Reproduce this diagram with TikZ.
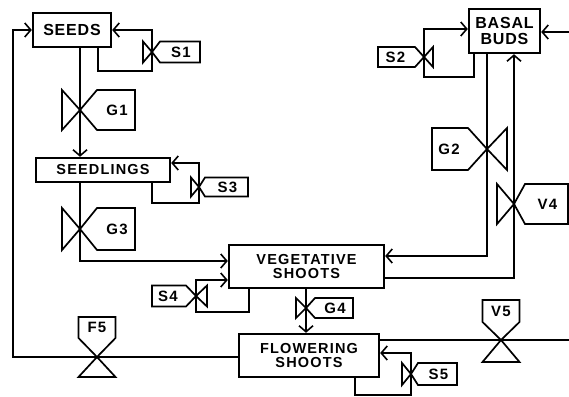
\documentclass[tikz,border=0pt]{standalone}
\usepackage{fontspec}
\setmainfont{Liberation Sans}
\newfontfamily\letfont[LetterSpace=8]{Liberation Sans}
\newfontfamily\bigletfont[LetterSpace=5]{Liberation Sans}
\usetikzlibrary{arrows.meta}
\tikzset{
  box/.style={draw, line width=2.4pt, inner sep=0pt, align=center,
    font={\letfont\bfseries\fontsize{14.5}{14}\selectfont}},
  bigbox/.style={box, font={\bigletfont\bfseries\fontsize{16}{16}\selectfont}},
  conn/.style={line width=1.7pt, line join=miter},
  connA/.style={conn, -{Straight Barb[length=6pt,width=14pt,line width=1.6pt]}},
  vline/.style={line width=1.7pt, line join=miter},
  taglab/.style={inner sep=0pt, font={\letfont\bfseries\fontsize{15}{14}\selectfont}},
  pics/valveR/.style n args={5}{code={
    \draw[vline] (0,0) -- (-#1,-#2) -- (-#1,#2) -- cycle;
    \draw[vline] (0,0) -- (#3,-#2) -- (#4,-#2) -- (#4,#2) -- (#3,#2) -- cycle;
    \node[taglab] (-lab) at ({(#3+#4)/2+1},0) {#5};
  }},
  pics/valveL/.style n args={5}{code={
    \draw[vline] (0,0) -- (#1,-#2) -- (#1,#2) -- cycle;
    \draw[vline] (0,0) -- (-#3,-#2) -- (-#4,-#2) -- (-#4,#2) -- (-#3,#2) -- cycle;
    \node[taglab] (-lab) at ({-(#3+#4)/2-1},0) {#5};
  }},
  pics/valveU/.style n args={5}{code={
    \draw[vline] (0,0) -- (-#2,#1) -- (#2,#1) -- cycle;
    \draw[vline] (0,0) -- (-#2,-#3) -- (-#2,-#4) -- (#2,-#4) -- (#2,-#3) -- cycle;
    \node[taglab] (-lab) at (0,{-(#3+#4)/2}) {#5};
  }},
}
\begin{document}
\begin{tikzpicture}[x=1pt,y=-1pt]
\useasboundingbox (0,0) rectangle (569,396);
% stocks
\node[bigbox, minimum width=78pt, minimum height=34pt] (seeds) at (72,30) {SEEDS};
\node[box, minimum width=134pt, minimum height=24pt] (seedlings) at (103,170) {SEEDLINGS};
\node[bigbox, minimum width=71pt, minimum height=44pt] (basal) at (504.5,31) {BASAL\\BUDS};
\node[box, minimum width=155pt, minimum height=43pt] (veg) at (306.5,266.5) {VEGETATIVE\\SHOOTS};
\node[box, minimum width=140pt, minimum height=43pt] (flower) at (309,355.5) {FLOWERING\\SHOOTS};
% valve centres
\coordinate (vG1) at (80,110);
\coordinate (vS1) at (152,52);
\coordinate (vS3) at (199,187);
\coordinate (vG3) at (80,229);
\coordinate (vS4) at (196,296);
\coordinate (vS2) at (424,57);
\coordinate (vG2) at (487,149);
\coordinate (vV4) at (514,204);
\coordinate (vG4) at (306,308);
\coordinate (vS5) at (411,374);
\coordinate (vF5) at (97,357);
\coordinate (vV5) at (501,340);
% corner points
\coordinate (cL) at (13,357);
\coordinate (cS1) at (98,71);
\coordinate (cS3) at (152,203);
\coordinate (cS3b) at (199,163);
\coordinate (cG3) at (80,261);
\coordinate (cS4) at (249,312);
\coordinate (cS4b) at (196,280);
\coordinate (cG2) at (487,256);
\coordinate (cV4) at (514,278);
\coordinate (cS2) at (474,77);
\coordinate (cS2b) at (424,29);
\coordinate (inR) at (569,32);
\coordinate (outR) at (569,340);
\coordinate (cS5) at (355,395);
\coordinate (cS5b) at (411,353);
% flows
\draw[connA] (vF5 -| flower.west) -- (vF5) -- (cL) |- (seeds.west);
\draw[connA] (seeds.south -| cS1) -- (cS1) -| (vS1) -- (vS1 |- seeds.east) -- (seeds.east);
\draw[connA] (seeds.south -| vG1) -- (vG1) -- (seedlings.north -| vG1);
\draw[connA] (seedlings.south -| cS3) -- (cS3) -| (vS3) -- (cS3b) -- (cS3b -| seedlings.east);
\draw[connA] (seedlings.south -| vG3) -- (vG3) -- (cG3) -- (cG3 -| veg.west);
\draw[connA] (veg.south -| cS4) -- (cS4) -| (vS4) -- (cS4b) -- (cS4b -| veg.west);
\draw[connA] (basal.south -| vG2) -- (vG2) -- (cG2) -- (cG2 -| veg.east);
\draw[connA] (cV4 -| veg.east) -- (cV4) -- (vV4) -- (basal.south -| vV4);
\draw[connA] (basal.south -| cS2) -- (cS2) -| (vS2) -- (cS2b) -- (cS2b -| basal.west);
\draw[connA] (inR) -- (inR -| basal.east);
\draw[connA] (veg.south -| vG4) -- (vG4) -- (flower.north -| vG4);
\draw[conn] (vV5 -| flower.east) -- (vV5) -- (outR);
\draw[connA] (flower.south -| cS5) -- (cS5) -| (vS5) -- (cS5b) -- (cS5b -| flower.east);
% valves
\pic (pG1) at (vG1) {valveR={18}{20}{17}{55}{G1}};
\pic (pS1) at (vS1) {valveR={9}{10.5}{8}{48}{S1}};
\pic (pS3) at (vS3) {valveR={8}{9.5}{6}{49}{S3}};
\pic (pG3) at (vG3) {valveR={18}{21}{17}{55}{G3}};
\pic (pS4) at (vS4) {valveL={11}{10.5}{10}{44}{S4}};
\pic (pS2) at (vS2) {valveL={9}{10}{9}{46}{S2}};
\pic (pG2) at (vG2) {valveL={20}{21}{19}{55}{G2}};
\pic (pV4) at (vV4) {valveR={17}{20}{11}{54}{V4}};
\pic (pG4) at (vG4) {valveR={10}{10}{9}{47}{G4}};
\pic (pS5) at (vS5) {valveR={9}{11}{7}{46}{S5}};
\pic (pF5) at (vF5) {valveU={20}{18.5}{19}{40}{F5}};
\pic (pV5) at (vV5) {valveU={22}{18.5}{18}{40}{V5}};
\end{tikzpicture}
\end{document}
